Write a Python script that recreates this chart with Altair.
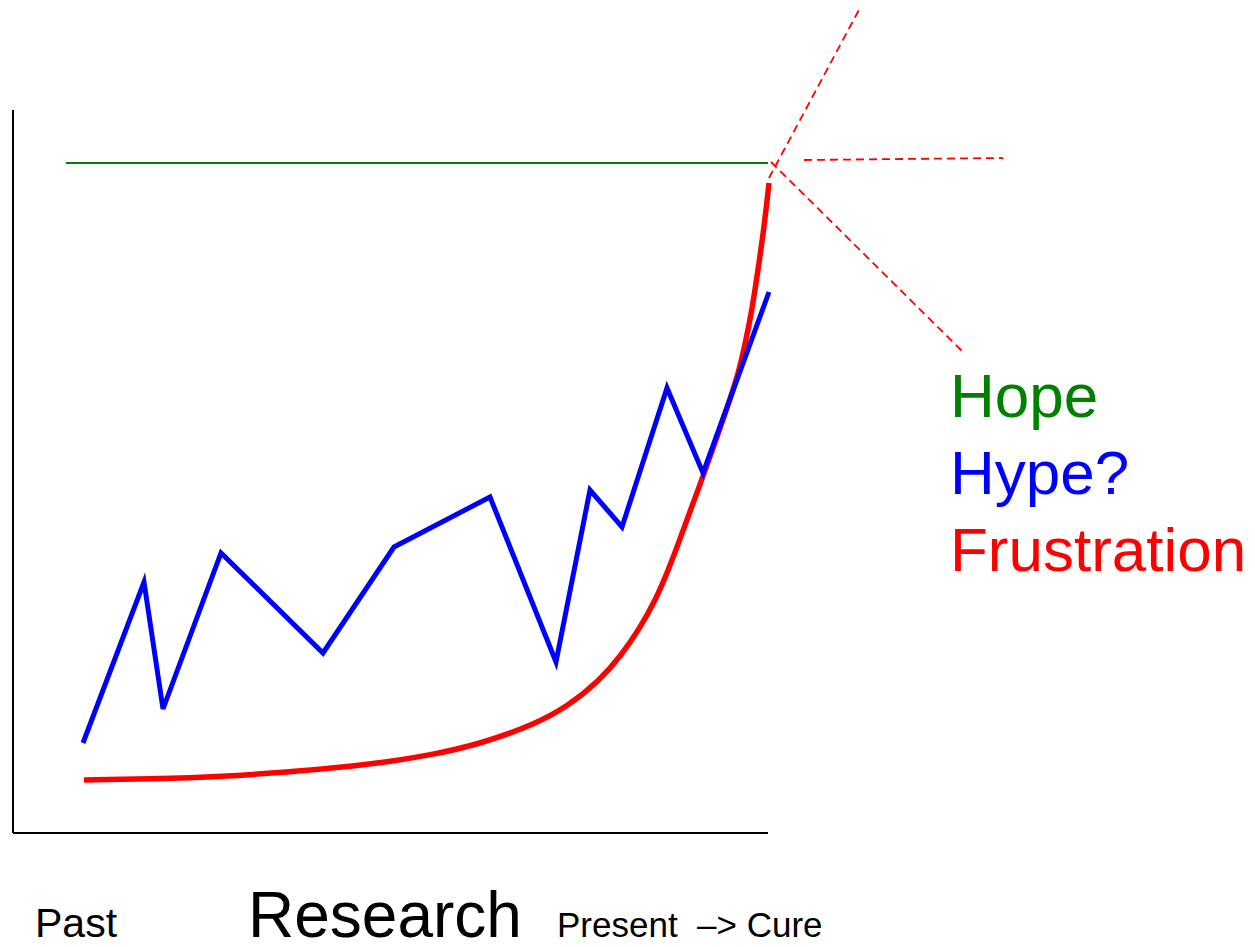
import altair as alt
import pandas as pd

# Values in a frame whose origin is the axes' corner: x to the right, y upward.
blue_x = [70, 131, 150, 208, 310, 381, 477, 543, 577, 609, 654, 690, 756]
blue_y = [90, 251, 124, 280, 180, 286, 336, 171, 343, 306, 445, 360, 541]

red_x = [71, 137, 207, 287, 354, 420, 470, 520, 554, 587, 607, 627, 642, 655, 667, 679, 692, 704, 715, 725, 732, 739, 745, 751, 756]
red_y = [53, 54, 56, 62, 68, 78, 90, 108, 126, 153, 176, 205, 232, 262, 294, 327, 362, 396, 428, 458, 488, 523, 563, 605, 650]

hope_x = [53, 755]
hope_y = [670, 670]

axis_x = [0, 0, 0, 755]
axis_y = [0, 723, 0, 0]
axis_id = ["v", "v", "h", "h"]

dash_x = [756, 791, 758]
dash_y = [655, 673, 671]
dash_x2 = [847, 990, 949]
dash_y2 = [825, 675, 482]

label_text = ["Hope", "Hype?", "Frustration"]
label_color = ["#008000", "#0000FF", "#FF0000"]
label_x = [937, 937, 937]
label_y = [416, 339, 262]

bottom_text = ["Past", "Research", "Present\u00a0 \u2013> Cure"]
bottom_size = [41, 64, 35]
bottom_x = [22, 235, 544]
bottom_y = [-104, -104, -104]

XS = alt.Scale(domain=[-5, 1234], nice=False, zero=False)
YS = alt.Scale(domain=[-106, 825], nice=False, zero=False)


def X(f="x"):
    return alt.X(f"{f}:Q", scale=XS, axis=None)


def Y(f="y"):
    return alt.Y(f"{f}:Q", scale=YS, axis=None)


blue_df = pd.DataFrame({"x": blue_x, "y": blue_y, "o": range(len(blue_x))})
red_df = pd.DataFrame({"x": red_x, "y": red_y, "o": range(len(red_x))})
hope_df = pd.DataFrame({"x": hope_x, "y": hope_y})
axis_df = pd.DataFrame({"x": axis_x, "y": axis_y, "id": axis_id})
dash_df = pd.DataFrame({"x": dash_x, "y": dash_y, "x2": dash_x2, "y2": dash_y2})
lab_df = pd.DataFrame({"t": label_text, "c": label_color, "x": label_x, "y": label_y})
bot_df = pd.DataFrame({"t": bottom_text, "s": bottom_size, "x": bottom_x, "y": bottom_y})

axes = alt.Chart(axis_df).mark_line(color="black", strokeWidth=2, clip=False).encode(
    x=X(), y=Y(), detail="id:N"
)
hope = alt.Chart(hope_df).mark_line(color="#008000", strokeWidth=2).encode(x=X(), y=Y())
red = alt.Chart(red_df).mark_line(color="#FF0000", strokeWidth=5.5, interpolate="basis").encode(
    x=X(), y=Y(), order="o:Q"
)
blue = alt.Chart(blue_df).mark_line(color="#0000FF", strokeWidth=5, strokeJoin="miter").encode(
    x=X(), y=Y(), order="o:Q"
)
dashes = alt.Chart(dash_df).mark_rule(color="#FF0000", strokeWidth=1.8, strokeDash=[8, 5]).encode(
    x=X(), y=Y(), x2="x2:Q", y2="y2:Q"
)
labels = alt.Chart(lab_df).mark_text(
    align="left", baseline="alphabetic", font="Liberation Sans", fontSize=62
).encode(x=X(), y=Y(), text="t:N", color=alt.Color("c:N", scale=None))
bottom = alt.Chart(bot_df).mark_text(
    align="left", baseline="alphabetic", font="Liberation Sans", color="black"
).encode(x=X(), y=Y(), text="t:N", size=alt.Size("s:Q", scale=None, legend=None))

chart = (
    alt.layer(axes, hope, red, blue, dashes, labels, bottom)
    .properties(width=1239, height=931, padding=0, autosize=alt.AutoSizeParams(type="none"))
    .configure_view(stroke=None)
)

chart.save("out.html", embed_options={"renderer": "svg", "actions": False})
